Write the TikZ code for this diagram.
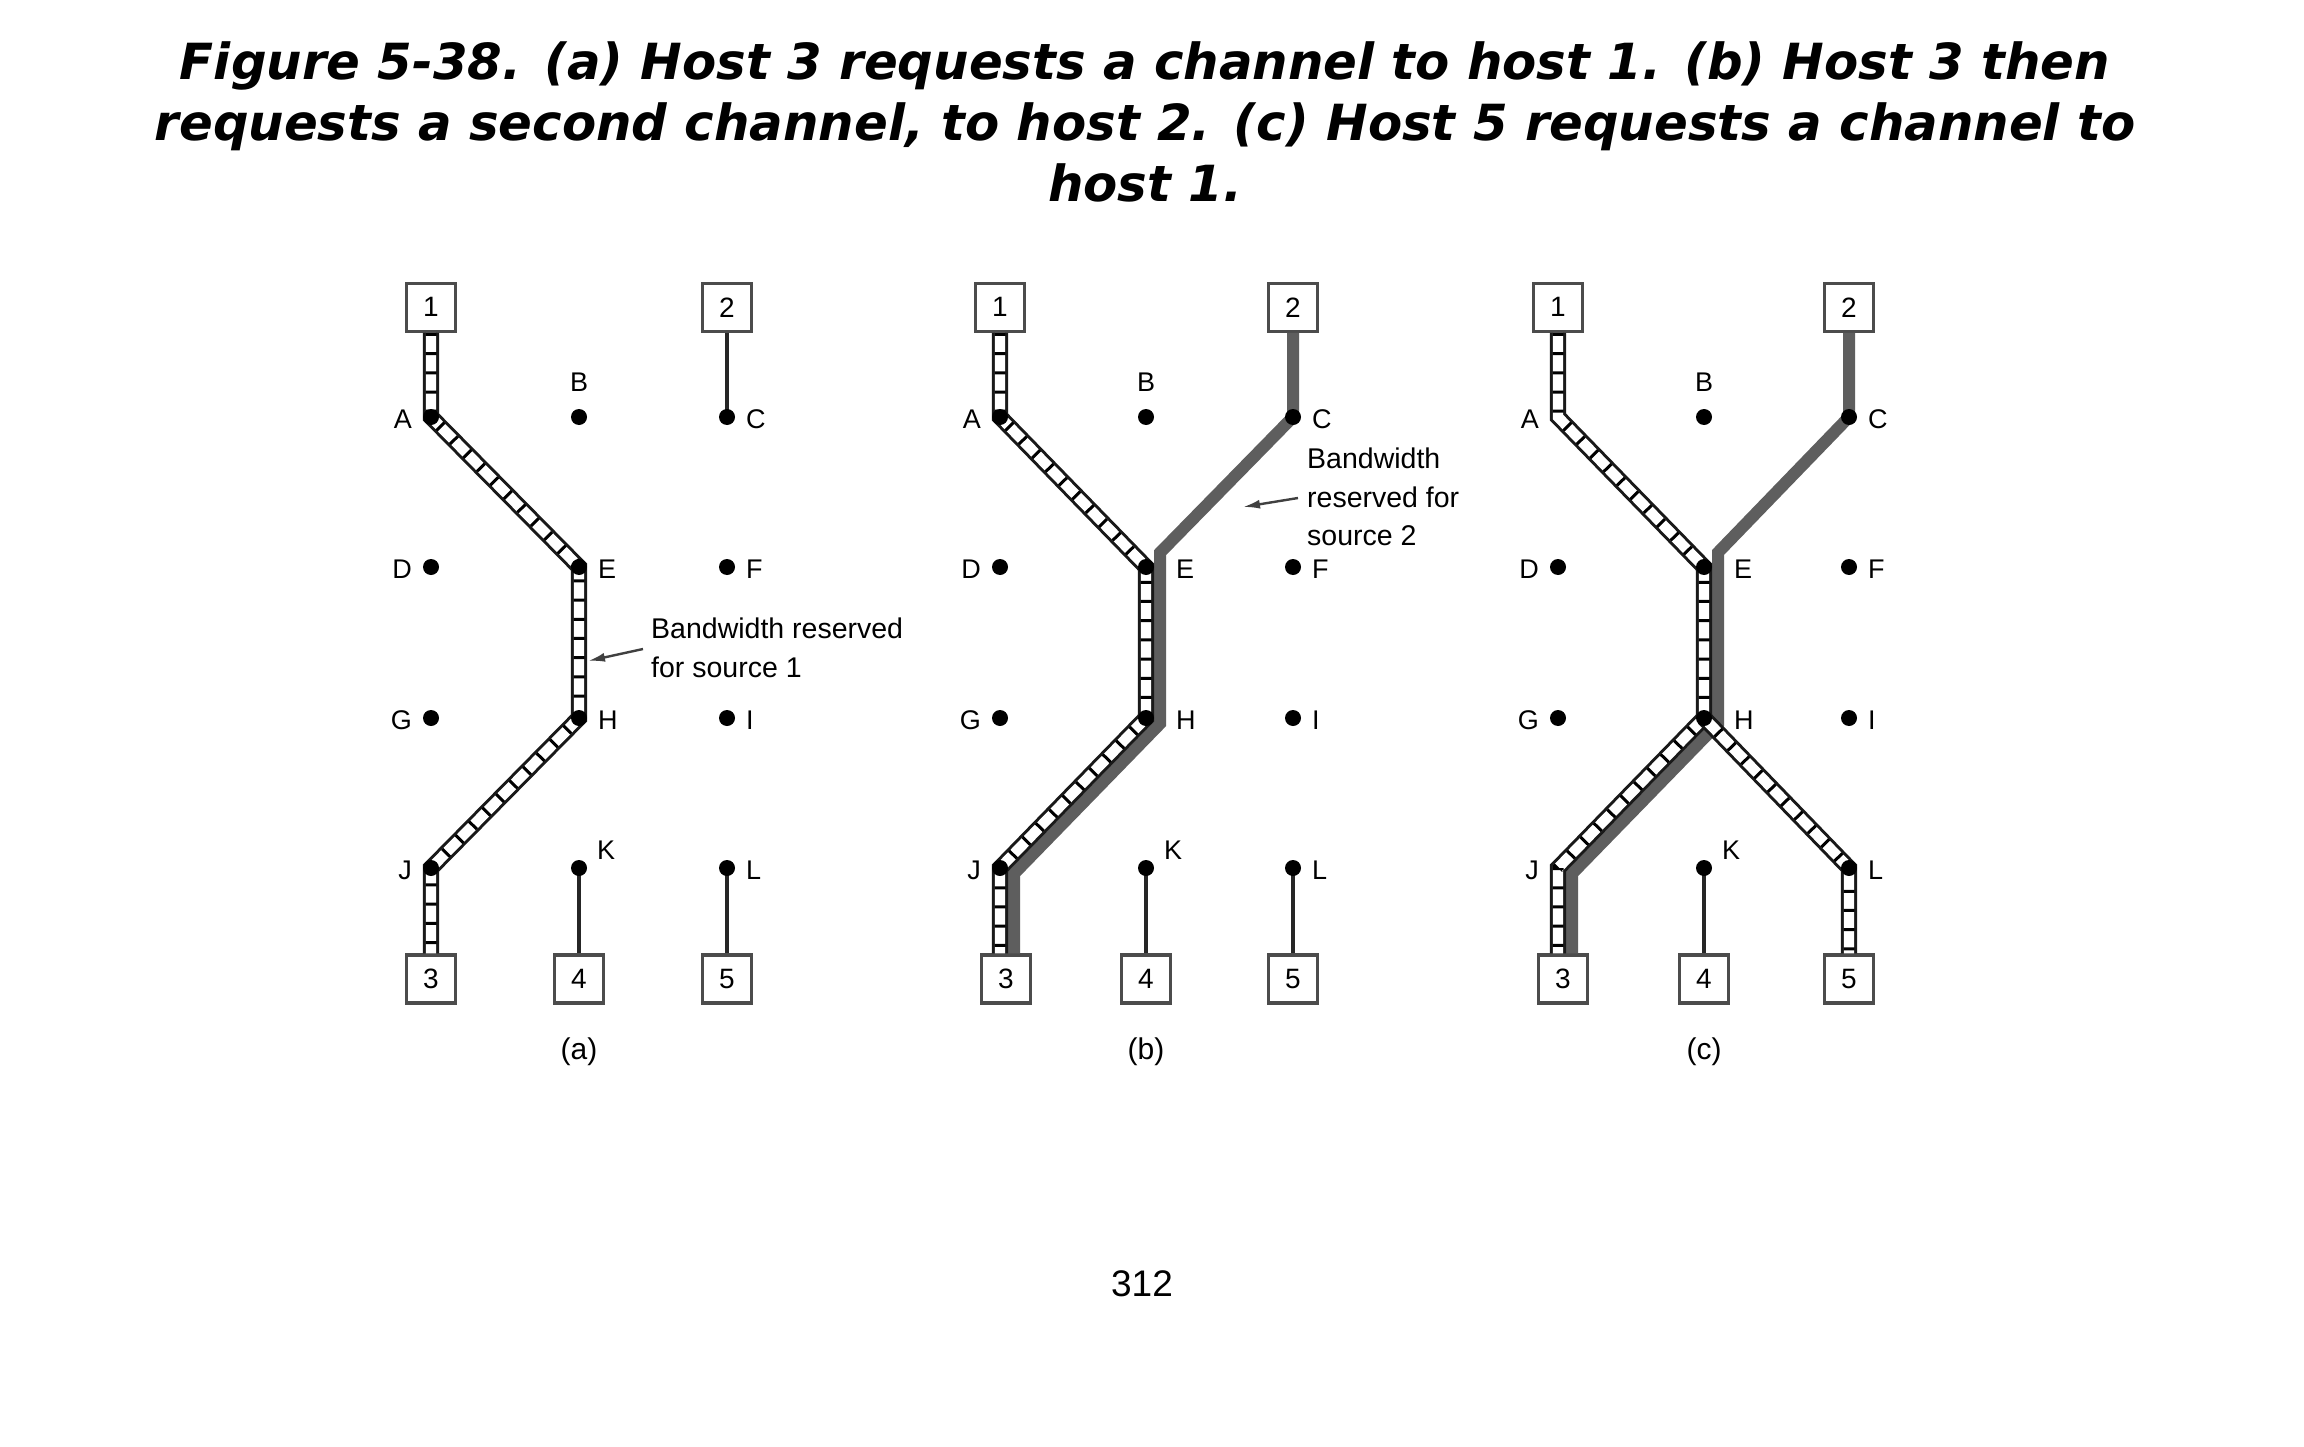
\documentclass[tikz,border=0pt]{standalone}
\usepackage{fontspec}
\setmainfont{Liberation Sans}
\newfontfamily\titlefont{DejaVu Sans}[BoldItalicFont={DejaVu Sans Bold Oblique}]
\usetikzlibrary{arrows.meta}

\newcommand\mkpanel[6]{%
  \coordinate (#1A) at (#2,417); \coordinate (#1B) at (#3,417); \coordinate (#1C) at (#4,417);
  \coordinate (#1D) at (#2,567); \coordinate (#1E) at (#3,567); \coordinate (#1F) at (#4,567);
  \coordinate (#1G) at (#2,718); \coordinate (#1H) at (#3,718); \coordinate (#1I) at (#4,718);
  \coordinate (#1J) at (#2,868); \coordinate (#1K) at (#3,868); \coordinate (#1L) at (#4,868);
  \node[host] (#1h1) at (#2,307.3) {1};
  \node[host] (#1h2) at (#4,307.3) {2};
  \node[host] (#1h3) at (#5,979) {3};
  \node[host] (#1h4) at (#3,979) {4};
  \node[host] (#1h5) at (#4,979) {5};
  \node[capt] (#1cap) at (#3,1059.5) {(#6)};
}
\newcommand\mklabels[2]{%
  \node[lblL] (#1Al) at (#1A) {A};
  \node[lblT] (#1Bl) at (#1B) {B};
  \node[lblR] (#1Cl) at (#1C) {C};
  \node[lblL] (#1Dl) at (#1D) {D};
  \node[lblR, xshift=#2] (#1El) at (#1E) {E};
  \node[lblR] (#1Fl) at (#1F) {F};
  \node[lblL] (#1Gl) at (#1G) {G};
  \node[lblR, xshift=#2] (#1Hl) at (#1H) {H};
  \node[lblR] (#1Il) at (#1I) {I};
  \node[lblL] (#1Jl) at (#1J) {J};
  \node[lblK] (#1Kl) at (#1K) {K};
  \node[lblR] (#1Ll) at (#1L) {L};
}
\newcommand\ladder[1]{\draw[rails] #1; \draw[rungs] #1;}

\begin{document}
\begin{tikzpicture}[x=1pt,y=-1pt, line join=miter,
  host/.style={draw=black!70, line width=3.2, fill=white, minimum width=49, minimum height=48, inner sep=0, font=\fontsize{28}{28}\selectfont},
  dot/.style={circle, fill=black, inner sep=0, minimum size=16},
  lbl/.style={inner sep=0, font=\fontsize{27}{27}\selectfont},
  lblL/.style={lbl, anchor=east, xshift=-19, yshift=-2},
  lblR/.style={lbl, anchor=west, xshift=19, yshift=-2},
  lblT/.style={lbl, anchor=south, yshift=25},
  lblK/.style={lbl, anchor=south west, xshift=18, yshift=8},
  capt/.style={inner sep=0, anchor=base, font=\fontsize{30}{30}\selectfont},
  link/.style={draw=black!85, line width=4},
  rails/.style={draw=black!90, line width=3, double=white, double distance=10.4},
  rungs/.style={draw=black, line width=11, dash pattern=on 3pt off 16.2pt},
  band/.style={draw=black!63, line width=12},
  note/.style={inner sep=0, anchor=base west, font=\fontsize{28.5}{28.5}\selectfont},
  pointer/.style={draw=black!75, line width=2.4, -{Latex[length=17pt,width=9pt]}},
  ttl/.style={inner sep=0, anchor=base, font=\titlefont\bfseries\itshape\fontsize{49.8}{61}\selectfont},
]
\path[fill=white, use as bounding box] (0,0) rectangle (2304,1447);

% title
\node[ttl] (t1) at (1145,80) {Figure 5-38. (a) Host 3 requests a channel to host 1. (b) Host 3 then};
\node[ttl] (t2) at (1145,141) {requests a second channel, to host 2. (c) Host 5 requests a channel to};
\node[ttl] (t3) at (1145,202) {host 1.};

% ---------- panel (a)
\mkpanel{a}{431}{579}{727}{431}{a}
\draw[link] (ah2.south) -- (aC);
\draw[link] (aK) -- (ah4.north);
\draw[link] (aL) -- (ah5.north);
\ladder{(ah1.south) -- (aA) -- (aE) -- (aH) -- (aJ) -- (aJ |- ah3.north)}
\foreach \n in {A,B,C,D,E,F,G,H,I,J,K,L} \node[dot] (a\n d) at (a\n) {};
\mklabels{a}{0}
\node[note] (na1) at (651,638) {Bandwidth reserved};
\node[note] (na2) at (651,677) {for source 1};
\coordinate (naS) at (643,649);
\coordinate (naT) at (588,661);
\draw[pointer] (naS) -- (naT);

% ---------- panel (b)
\mkpanel{b}{1000}{1146}{1293}{1006}{b}
\draw[link] (bK) -- (bh4.north);
\draw[link] (bL) -- (bh5.north);
\coordinate (bE2) at (1160,552.7);
\coordinate (bH2) at (1160,723.7);
\coordinate (bJ2) at (1014,873.7);
\draw[band] (bh2.south) -- (bC) -- (bE2) -- (bH2) -- (bJ2) -- (bJ2 |- bh3.north);
\ladder{(bh1.south) -- (bA) -- (bE) -- (bH) -- (bJ) -- (bJ |- bh3.north)}
\foreach \n in {A,B,C,D,E,F,G,H,I,J,K,L} \node[dot] (b\n d) at (b\n) {};
\mklabels{b}{11}
\node[note] (nb1) at (1307,468) {Bandwidth};
\node[note] (nb2) at (1307,507) {reserved for};
\node[note] (nb3) at (1307,545) {source 2};
\coordinate (nbS) at (1298,498);
\coordinate (nbT) at (1243,507);
\draw[pointer] (nbS) -- (nbT);

% ---------- panel (c)
\mkpanel{c}{1558}{1704}{1849}{1563}{c}
\draw[link] (cK) -- (ch4.north);
\coordinate (cE2) at (1718,552.5);
\coordinate (cH2) at (1718,723.7);
\coordinate (cJ2) at (1572,873.7);
\draw[band] (ch2.south) -- (cC) -- (cE2) -- (cH2) -- (cJ2) -- (cJ2 |- ch3.north);
\ladder{(ch1.south) -- (cA) -- (cE) -- (cH) -- (cJ) -- (cJ |- ch3.north)}
\ladder{(cH) -- (cL) -- (ch5.north)}
\foreach \n in {B,C,D,E,F,G,H,I,K,L} \node[dot] (c\n d) at (c\n) {};
\mklabels{c}{11}

% page number
\node[inner sep=0, anchor=base, font=\fontsize{37}{37}\selectfont] (pg) at (1142,1296) {312};
\end{tikzpicture}
\end{document}
